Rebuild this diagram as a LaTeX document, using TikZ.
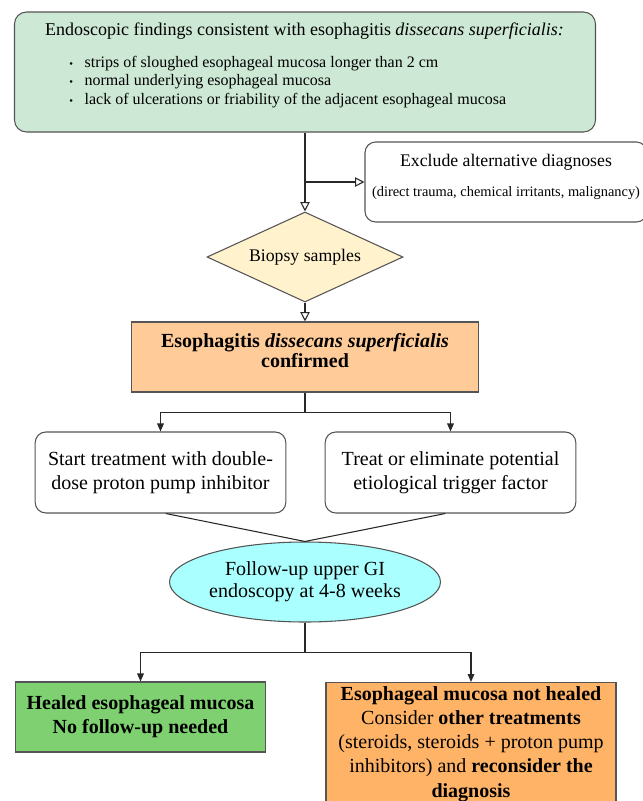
\documentclass[tikz,border=0pt]{standalone}
\usepackage{fontspec}
\setmainfont{Liberation Serif}
\usepackage{tikz}
\usetikzlibrary{shapes.geometric, arrows.meta, positioning}
\definecolor{myedge}{RGB}{85,85,85}
\definecolor{myline}{RGB}{40,40,40}
\definecolor{mymint}{RGB}{205,232,212}
\definecolor{mycream}{RGB}{255,242,204}
\definecolor{mypeach}{RGB}{255,204,153}
\definecolor{mycyan}{RGB}{170,255,255}
\definecolor{mygreen}{RGB}{126,208,112}
\definecolor{myorange}{RGB}{255,179,102}
\tikzset{
  findblock/.style={rectangle, draw=myedge, fill=mymint, rounded corners=9pt,
    line width=0.8pt, minimum width=435.75pt, minimum height=90pt},
  whiteblock/.style={rectangle, draw=myedge, fill=white, rounded corners=8pt,
    line width=0.8pt, align=center, inner sep=0pt},
  biopsy/.style={diamond, aspect=2.18, draw=myedge, fill=mycream, line width=0.8pt,
    minimum width=147pt, minimum height=67.5pt, inner sep=0pt,
    font=\fontsize{13.3}{16}\selectfont},
  confblock/.style={rectangle, draw=myedge, fill=mypeach, line width=0.8pt,
    minimum width=260pt, minimum height=52.5pt, align=center, text depth=9.5pt,
    font=\fontsize{15}{13.5}\selectfont\bfseries},
  followup/.style={ellipse, draw=myedge, fill=mycyan, line width=0.8pt,
    minimum width=190pt, minimum height=60pt, inner sep=0pt, align=center,
    font=\fontsize{15}{16.5}\selectfont},
  healblock/.style={rectangle, draw=myedge, fill=mygreen, line width=0.8pt,
    minimum width=187pt, minimum height=52.5pt, align=center,
    font=\fontsize{15}{18}\selectfont\bfseries},
  failblock/.style={rectangle, draw=myedge, fill=myorange, line width=0.8pt,
    minimum width=217.5pt, minimum height=111pt, anchor=north},
  openarrow/.style={-{Triangle[open, length=7pt, width=7pt]}, line width=0.8pt, color=myline},
  arrow/.style={-{Triangle[length=6pt, width=5pt]}, line width=0.8pt, color=myline},
  line/.style={line width=0.8pt, color=myline}
}

\begin{document}
\begin{tikzpicture}[x=0.75pt, y=-0.75pt]
  \clip (0,0) rectangle (643,801);
  \fill[white] (0,0) rectangle (643,801);

  % endoscopic findings
  \node[findblock] (find) at (305,72) {};
  \node[font=\fontsize{13.5}{15}\selectfont] (findtitle) at (304.5,31)
    {Endoscopic findings consistent with esophagitis \textit{dissecans superficialis:}};
  \node[anchor=west, align=left, inner sep=0pt, font=\fontsize{12}{13.7}\selectfont] (findlist) at (69,82)
    {\makebox[11.5pt][l]{\footnotesize\textbullet}strips of sloughed esophageal mucosa longer than 2 cm\\
     \makebox[11.5pt][l]{\footnotesize\textbullet}normal underlying esophageal mucosa\\
     \makebox[11.5pt][l]{\footnotesize\textbullet}lack of ulcerations or friability of the adjacent esophageal mucosa};

  % exclusion
  \node[whiteblock, minimum width=211.5pt, minimum height=60pt] (excl) at (506,182) {};
  \node[font=\fontsize{13.3}{16}\selectfont] (excltitle) at (506,162) {Exclude alternative diagnoses};
  \node[font=\fontsize{10.8}{13}\selectfont] (excltext) at (506,193) {(direct trauma, chemical irritants, malignancy)};

  \node[biopsy] (biop) at (305,257) {Biopsy samples};
  \node[confblock] (conf) at (305,357) {Esophagitis \textit{dissecans superficialis}\\confirmed};

  \node[whiteblock, minimum width=188pt, minimum height=60.75pt, font=\fontsize{15}{18}\selectfont] (ppi) at (160.5,472.5)
    {Start treatment with double-\\dose proton pump inhibitor};
  \node[whiteblock, minimum width=188pt, minimum height=60.75pt, font=\fontsize{15}{18}\selectfont] (trig) at (450.5,472.5)
    {Treat or eliminate potential\\etiological trigger factor};

  \node[followup] (fup) at (305,582) {Follow-up upper GI\\endoscopy at 4-8 weeks};

  \node[healblock] (heal) at (140.5,717) {Healed esophageal mucosa\\No follow-up needed};
  \node[failblock] (fail) at (471,682) {};
  \node[anchor=north, align=center, inner sep=0pt, font=\fontsize{15}{18.2}\selectfont] (failtext) at (471,686)
    {\textbf{Esophageal mucosa not healed}\\
     Consider \textbf{other treatments}\\
     (steroids, steroids + proton pump\\
     inhibitors) and \textbf{reconsider the}\\
     \textbf{diagnosis}};

  % connectors
  \coordinate (split) at (find.south |- excl.west);
  \draw[openarrow] (find.south) -- (biop.north);
  \draw[openarrow] (split) -- (excl.west);
  \draw[openarrow] (biop.south) -- (conf.north);
  \draw[arrow] (conf.south) -- ++(0,20) -| (ppi.north);
  \draw[arrow] (conf.south) -- ++(0,20) -| (trig.north);
  \draw[line] ([xshift=4pt]ppi.south) -- (fup.north);
  \draw[line] ([xshift=-4pt]trig.south) -- (fup.north);
  \draw[arrow] (fup.south) -- ++(0,30) -| (heal.north);
  \draw[arrow] (fup.south) -- ++(0,30) -| (fail.north);
\end{tikzpicture}
\end{document}
